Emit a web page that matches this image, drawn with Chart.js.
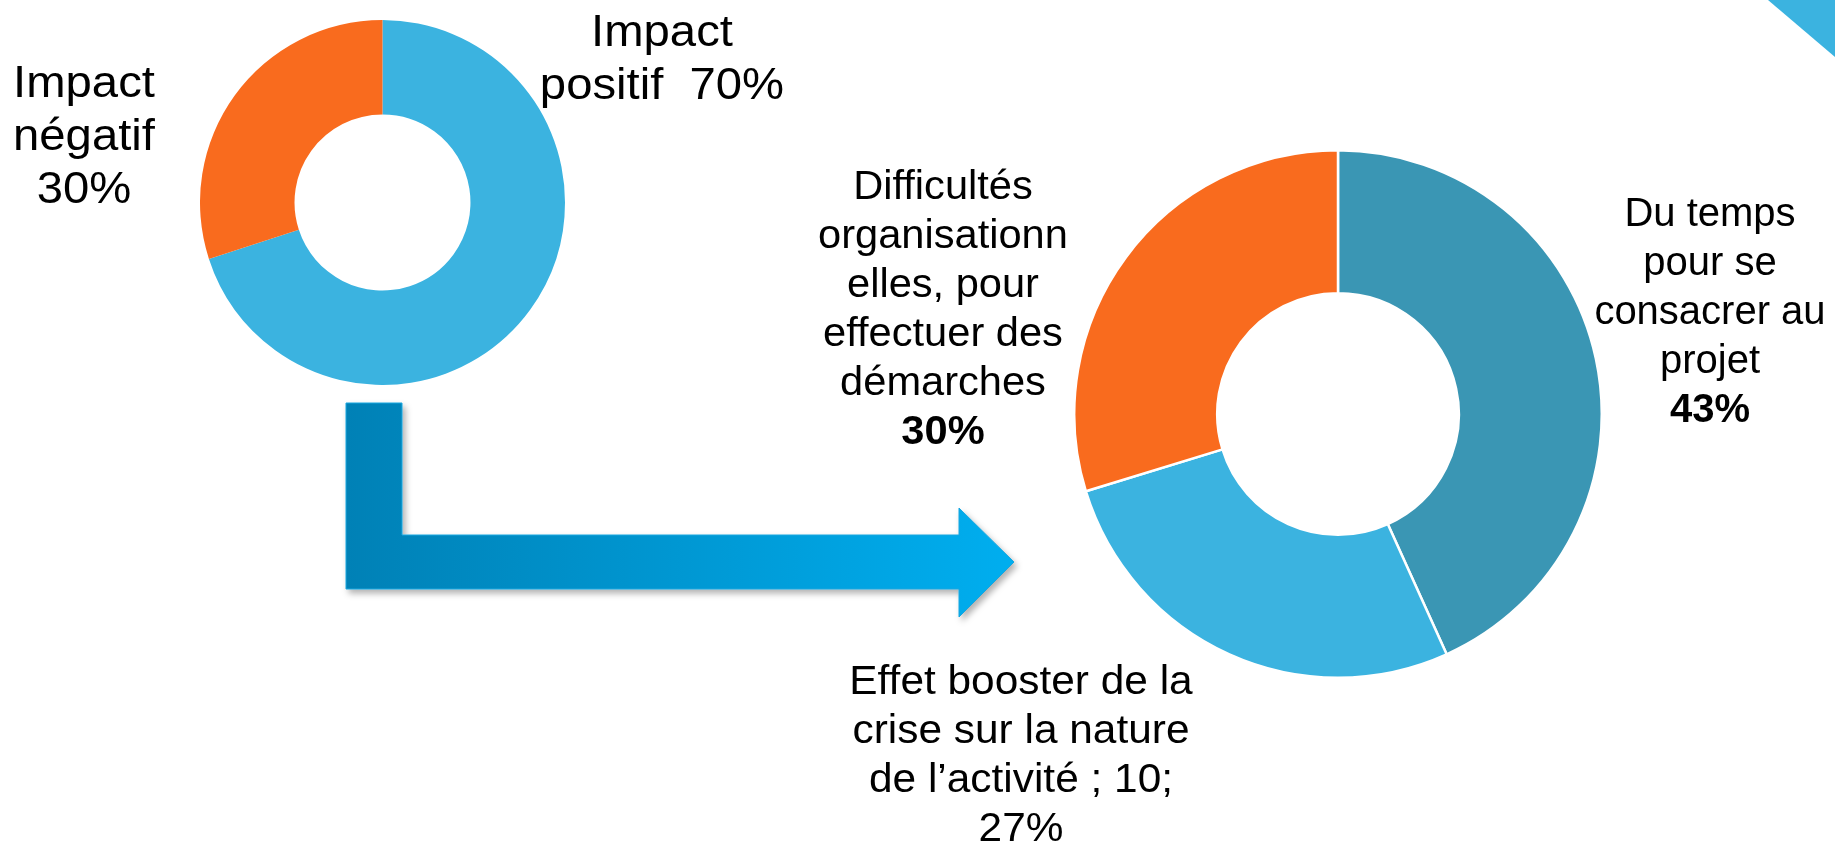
<!DOCTYPE html>
<html lang="fr">
<head>
<meta charset="utf-8">
<title>Impact de la crise</title>
<script src="https://cdn.jsdelivr.net/npm/chart.js@4"></script>
<style>
  html, body {
    margin: 0;
    padding: 0;
    width: 1835px;
    height: 842px;
    overflow: hidden;
    background: #ffffff;
    font-family: "Liberation Sans", Arial, sans-serif;
    color: #000000;
  }
  .chart-box {
    position: absolute;
  }
  .label {
    position: absolute;
    text-align: center;
    white-space: pre;
    transform-origin: 50% 0;
  }
  .small-label {
    font-size: 45px;
    line-height: 53px;
    transform: scaleX(1.05);
  }
  .big-label {
    font-size: 40px;
    line-height: 49px;
  }
  #deco {
    position: absolute;
    left: 0;
    top: 0;
  }
</style>
</head>
<body>

<!-- fleche et coin decoratif -->
<svg id="deco" width="1835" height="842">
  <defs>
    <linearGradient id="arrowGrad" gradientUnits="userSpaceOnUse" x1="346" y1="0" x2="1014" y2="0">
      <stop offset="0" stop-color="#0081b6"/>
      <stop offset="1" stop-color="#00aeef"/>
    </linearGradient>
    <filter id="shadow" x="-10%" y="-10%" width="120%" height="130%">
      <feDropShadow dx="3" dy="4" stdDeviation="3" flood-color="#000" flood-opacity="0.3"/>
    </filter>
  </defs>
  <polygon points="346,403 402,403 402,535 959,535 959,508 1014,562 959,617 959,589 346,589"
           fill="url(#arrowGrad)" stroke="#19a6df" stroke-width="1" filter="url(#shadow)"/>
  <polygon points="1768,0 1835,0 1835,57" fill="#3bb3e0"/>
</svg>

<div class="chart-box" style="left:200px; top:20px; width:365px; height:365px;">
  <canvas id="impactChart"></canvas>
</div>
<div class="chart-box" style="left:1073px; top:149px; width:530px; height:530px;">
  <canvas id="freinsChart"></canvas>
</div>

<div class="label small-label" style="left:-16px; top:55px; width:200px;">Impact
négatif
30%</div>
<div class="label small-label" style="left:512px; top:4px; width:300px;">Impact
positif  70%</div>

<div class="label big-label" style="left:793px; top:161px; width:300px; transform:scaleX(1.04);">Difficultés
organisationn
elles, pour
effectuer des
démarches
<b>30%</b></div>
<div class="label big-label" style="left:1560px; top:188px; width:300px;">Du temps
pour se
consacrer au
projet
<b>43%</b></div>
<div class="label big-label" style="left:821px; top:656px; width:400px; transform:scaleX(1.06);">Effet booster de la
crise sur la nature
de l’activité ; 10;
27%</div>

<script>
// Petit anneau : impact de la crise
const impactLabels = ['Impact positif', 'Impact négatif'];
const impactValues = [70, 30];
const impactColors = ['#3bb3e0', '#f96b1e'];

// Grand anneau : detail des impacts (effectifs)
const freinsLabels = [
  'Du temps pour se consacrer au projet',
  'Effet booster de la crise sur la nature de l’activité',
  'Difficultés organisationnelles, pour effectuer des démarches'
];
const freinsValues = [16, 10, 11];
const freinsColors = ['#3a96b4', '#3bb3e0', '#f96b1e'];

function donutConfig(labels, values, colors, cutout, border) {
  return {
    type: 'doughnut',
    data: {
      labels: labels,
      datasets: [{
        data: values,
        backgroundColor: colors,
        borderColor: '#ffffff',
        borderWidth: border
      }]
    },
    options: {
      responsive: true,
      maintainAspectRatio: false,
      animation: false,
      events: [],
      cutout: cutout,
      layout: { padding: 0 },
      plugins: {
        legend: { display: false },
        tooltip: { enabled: false }
      }
    }
  };
}

new Chart(document.getElementById('impactChart'),
  donutConfig(impactLabels, impactValues, impactColors, '48.2%', 0));

new Chart(document.getElementById('freinsChart'),
  donutConfig(freinsLabels, freinsValues, freinsColors, '45.8%', 2.5));
</script>
</body>
</html>
